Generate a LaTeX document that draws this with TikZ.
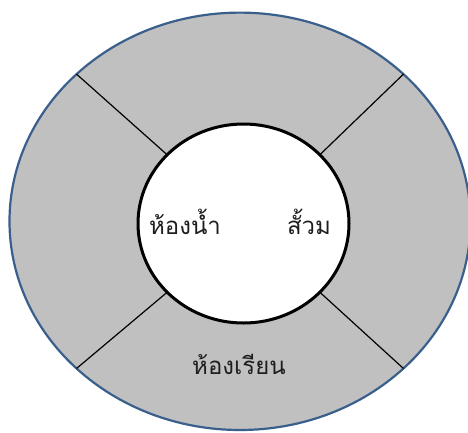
\documentclass[tikz,border=0pt]{standalone}
\usepackage{fontspec}
\newfontfamily\thaifont[Script=Thai]{Loma}
\usetikzlibrary{shapes.geometric}
\definecolor{ringgray}{RGB}{192,192,192}
\definecolor{ringblue}{RGB}{58,95,140}
\definecolor{txt}{RGB}{30,30,30}
\tikzset{
  ring/.style={ellipse, draw=ringblue, line width=2.2pt, fill=ringgray, inner sep=0pt, outer sep=0pt, minimum width=461pt, minimum height=417.4pt},
  hub/.style={ellipse, draw=black, line width=3pt, fill=white, inner sep=0pt, outer sep=0pt, minimum width=211pt, minimum height=199pt},
  spoke/.style={draw=black, line width=1.2pt},
  lbl/.style={font=\thaifont\fontsize{24pt}{28pt}\selectfont, text=txt, inner sep=0pt}
}
\begin{document}
\begin{tikzpicture}[x=1pt,y=-1pt]
\useasboundingbox (0,0) rectangle (468,432);
\begin{scope}
\clip (0,0) rectangle (468,432);
\node[ring] (outer) at (240,221.3) {};
\node[hub, draw=none, fill=none] (innerref) at (243.5,223.5) {};
\draw[spoke] (innerref.138) -- (outer.138);
\draw[spoke] (innerref.42) -- (outer.42);
\draw[spoke] (innerref.-138) -- (outer.-138);
\draw[spoke] (innerref.-42) -- (outer.-42);
\node[hub] (inner) at (243.5,223.5) {};
\end{scope}
\node[lbl] (bath) at (185,222) {ห้องน้ำ};
\node[lbl] (toilet) at (309,222) {สั้วม};
\node[lbl] (class) at (239,364) {ห้องเรียน};
\end{tikzpicture}
\end{document}
